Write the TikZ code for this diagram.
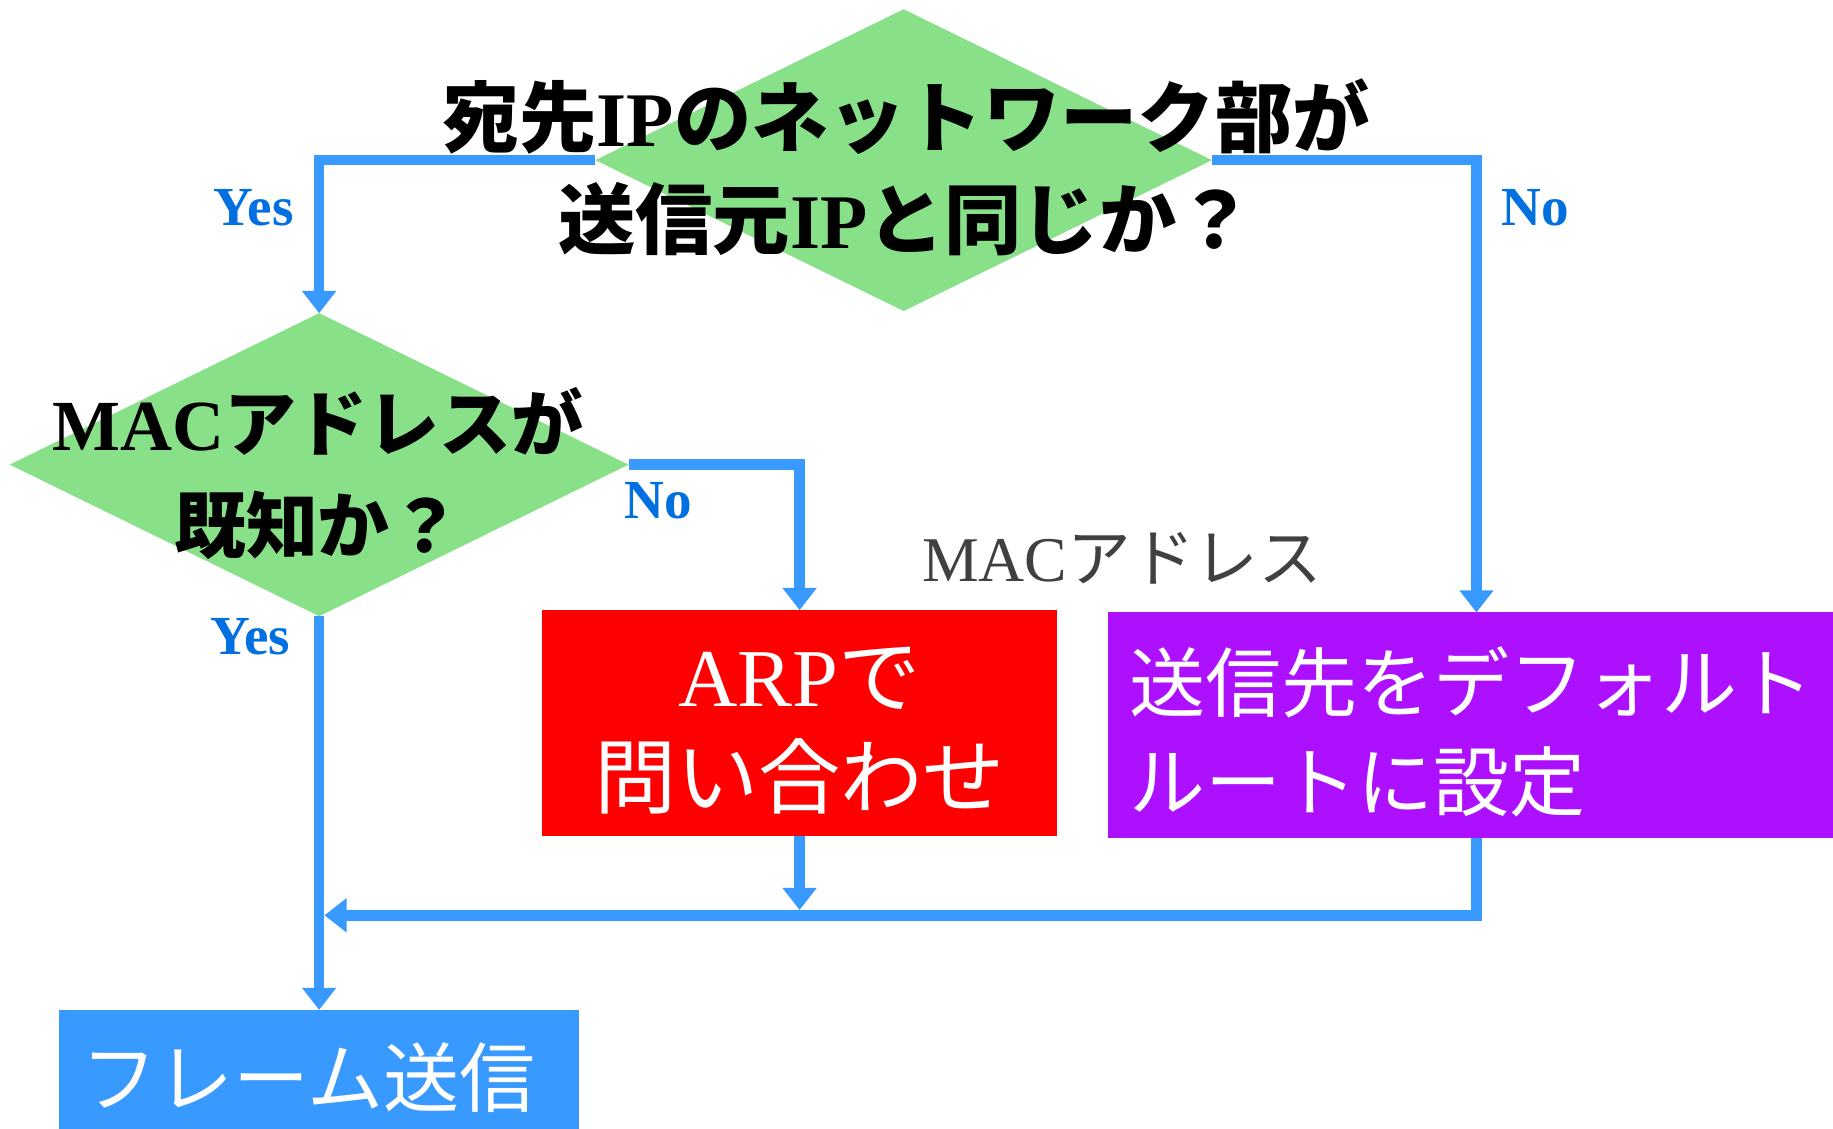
\documentclass[tikz,border=0pt]{standalone}
\usepackage{fontspec}
\setmainfont{Liberation Serif}
\newfontfamily\cjk{Noto Sans CJK JP}
\newcommand{\jtxt}[1]{{\cjk #1}}
\usetikzlibrary{shapes.geometric,arrows.meta}
\definecolor{lineblue}{RGB}{56,153,255}
\definecolor{lblblue}{RGB}{0,112,224}
\definecolor{dgreen}{RGB}{136,224,136}
\definecolor{purp}{RGB}{172,16,255}
\definecolor{gtext}{RGB}{64,64,64}
\begin{document}
\begin{tikzpicture}[x=0.01cm,y=-0.01cm,
  conn/.style={draw=lineblue,line width=2.56pt,line join=miter},
  tip/.style={-{Triangle[width=8pt,length=5.4pt]}},
  dia/.style={diamond,fill=dgreen,inner sep=0pt,outer sep=0pt},
  box/.style={rectangle,inner sep=0pt,outer sep=0pt},
  txt/.style={inner sep=0pt,outer sep=0pt,align=center},
  yn/.style={text=lblblue,inner sep=0pt,font=\fontsize{13.4pt}{16pt}\selectfont\bfseries}]
\useasboundingbox (0,0) rectangle (1568,965);
\clip (0,0) rectangle (1568,965);
% shapes
\node[dia,minimum width=5.27cm,minimum height=2.58cm] (d1) at (773,137) {};
\node[dia,minimum width=5.29cm,minimum height=2.59cm] (d2) at (273,397.5) {};
\node[box,fill=red,minimum width=4.40cm,minimum height=1.93cm] (arp) at (684,618.5) {};
\node[box,fill=purp,minimum width=6.30cm,minimum height=1.93cm] (def) at (1263,620.5) {};
\node[box,fill=lineblue,minimum width=4.45cm,minimum height=1.21cm] (fs) at (273,924.5) {};
% connectors
\coordinate (jl) at (277.5,783);
\coordinate (jm) at (684,778.5);
\draw[conn,tip] (d1.west) -| (d2.north);
\draw[conn,tip] (d1.east) -| (def.north);
\draw[conn,tip] (d2.east) -| (arp.north);
\draw[conn,tip] (d2.south) -- (fs.north);
\draw[conn,tip] (arp.south) -- (arp.south |- jm);
\draw[conn,tip] (def.south) |- (jl);
% texts
\node[txt,font=\fontsize{18.8pt}{24.7pt}\selectfont\bfseries] (q1) at (775,143)
  {\jtxt{宛先}IP\jtxt{のネットワーク部が}\\\jtxt{送信元}IP\jtxt{と同じか？}};
\node[txt,font=\fontsize{17.5pt}{24.7pt}\selectfont\bfseries] (q2) at (272,405)
  {MAC\jtxt{アドレスが}\\\jtxt{既知か？}};
\node[txt,text=white,font=\fontsize{20pt}{24.5pt}\selectfont] (t3) at (684,625)
  {ARP\jtxt{で}\\\jtxt{問い合わせ}};
\node[txt,text=white,align=left,anchor=west,font=\fontsize{18.5pt}{24.2pt}\selectfont] (t4) at (966,626)
  {\jtxt{送信先をデフォルト}\\\jtxt{ルートに設定}};
\node[txt,text=white,font=\fontsize{18.5pt}{24pt}\selectfont] (t5) at (264,922)
  {\jtxt{フレーム送信}};
\node[txt,text=gtext,font=\fontsize{15.5pt}{18pt}\selectfont] (mac) at (960,478)
  {MAC\jtxt{アドレス}};
\node[yn] (y1) at (217,178) {Yes};
\node[yn] (n1) at (1313,178) {No};
\node[yn] (n2) at (563,428) {No};
\node[yn] (y2) at (214,545) {Yes};
\end{tikzpicture}
\end{document}
